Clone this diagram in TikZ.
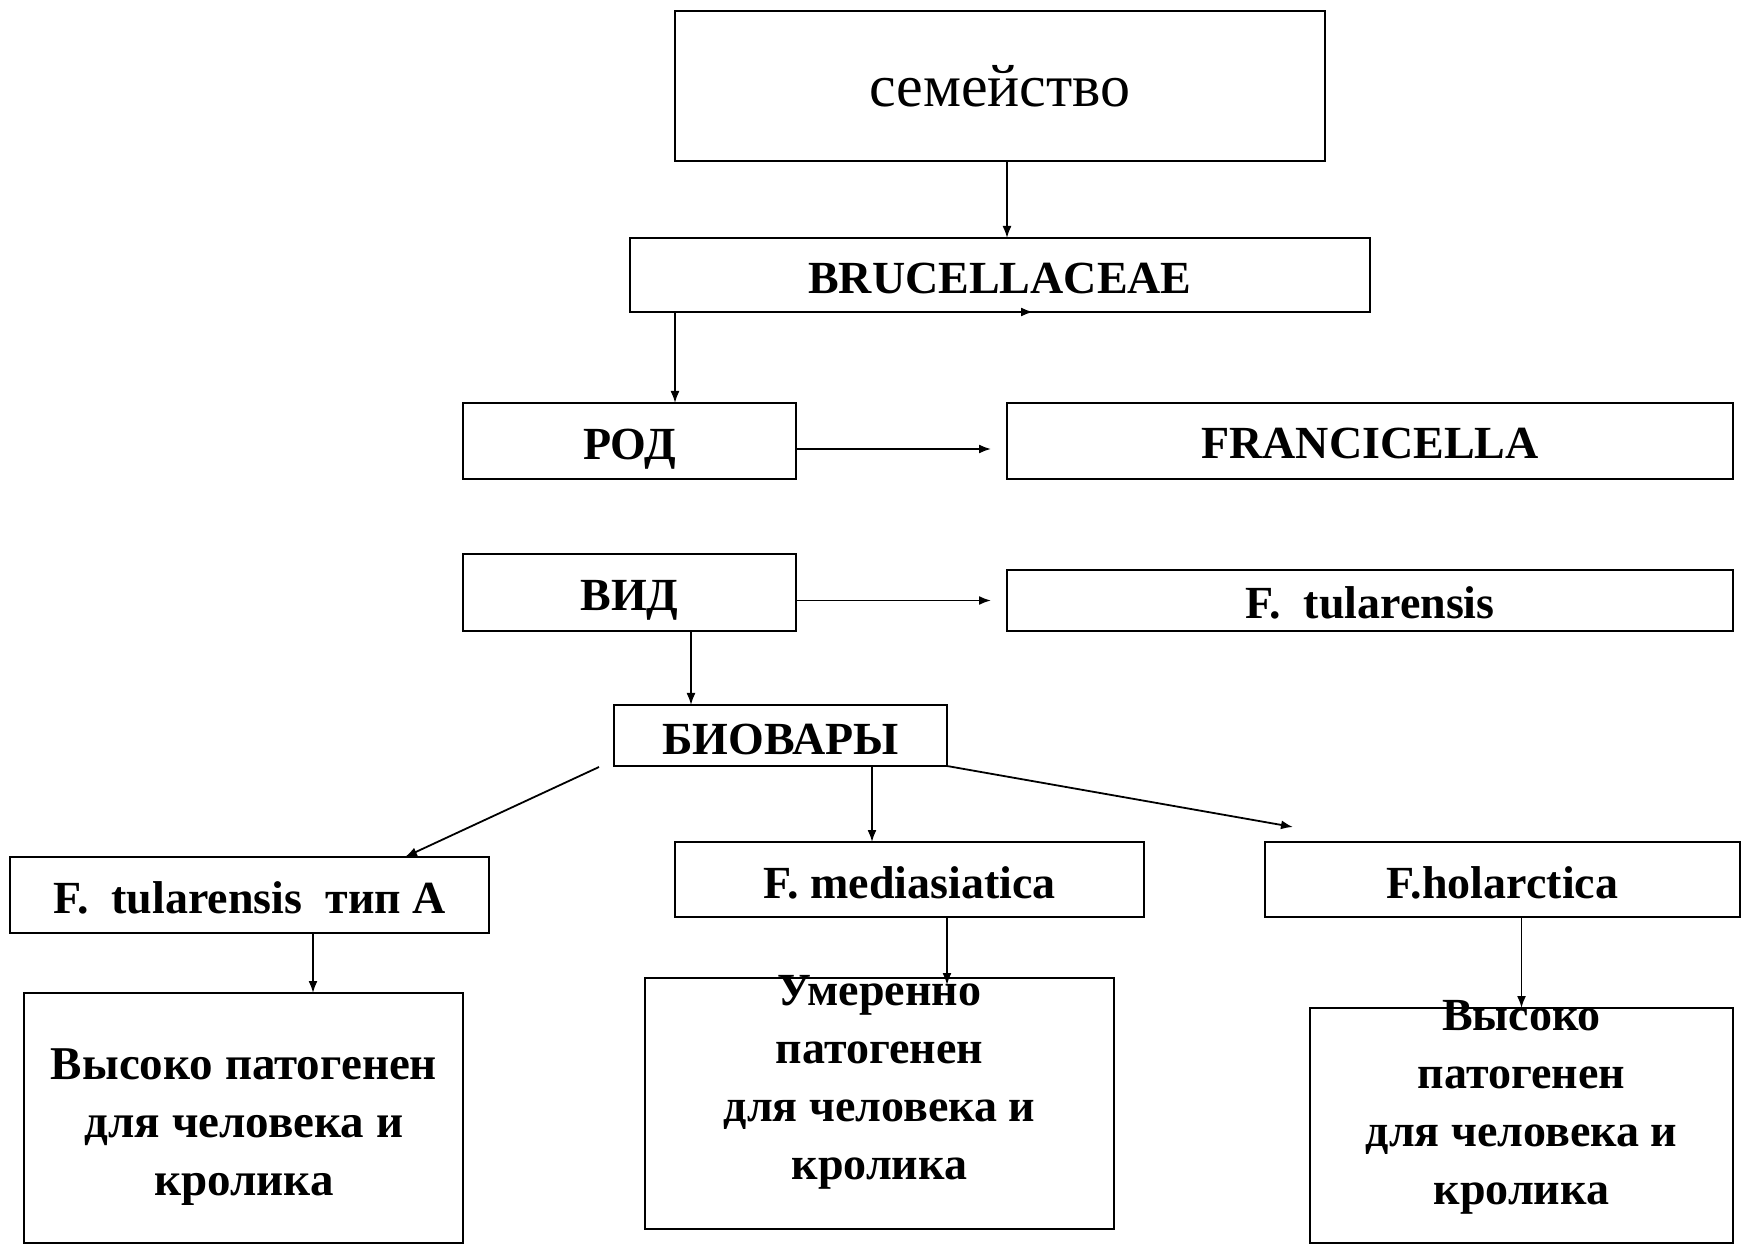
\documentclass[tikz,border=0pt]{standalone}
\usepackage{fontspec}
\setmainfont{Liberation Serif}
\usetikzlibrary{arrows.meta,calc}
\begin{document}
\begin{tikzpicture}[x=0.5pt,y=-0.5pt,
  box/.style={draw,line width=1pt,rectangle,inner sep=0pt,outer sep=0pt},
  lbl/.style={font=\fontsize{23}{29}\selectfont\bfseries,align=center,inner sep=0pt},
  arr/.style={line width=0.9pt,-{Latex[length=6pt,width=4.5pt]}}]
\useasboundingbox (0,0) rectangle (1741,1245);

% taxonomy boxes
\node[box,minimum width=325pt,minimum height=75pt,font=\fontsize{30}{36}\selectfont] (fam) at (1000,86) {семейство};
\node[box,minimum width=370pt,minimum height=37pt] (bru) at (1000,275) {};
\node[lbl] (brut) at (1000,279) {BRUCELLACEAE};
\node[box,minimum width=166.5pt,minimum height=38pt] (rod) at (629.5,441) {};
\node[lbl] (rodt) at (629.5,449) {РОД};
\node[box,minimum width=363pt,minimum height=38pt] (fran) at (1370,441) {};
\node[lbl] (frant) at (1370,444) {FRANCICELLA};
\node[box,minimum width=166.5pt,minimum height=38.5pt] (vid) at (629.5,592.5) {};
\node[lbl] (vidt) at (629.5,600) {ВИД};
\node[box,minimum width=363pt,minimum height=30.5pt] (ftul) at (1370,600.5) {};
\node[lbl] (ftult) at (1370,603) {F.\ \ tularensis};
\node[box,minimum width=166.5pt,minimum height=30.5pt] (bio) at (780.5,735.5) {};
\node[lbl] (biot) at (780.5,739) {БИОВАРЫ};

% biovars
\node[box,minimum width=239.5pt,minimum height=38pt] (ta) at (249.5,895) {};
\node[lbl] (tat) at (249.5,898) {F.\ \ tularensis\ \ тип А};
\node[box,minimum width=234.5pt,minimum height=37.5pt] (med) at (909.5,879.5) {};
\node[lbl] (medt) at (909.5,883) {F. mediasiatica};
\node[box,minimum width=237.5pt,minimum height=37.5pt] (hol) at (1502.5,879.5) {};
\node[lbl] (holt) at (1502.5,883) {F.holarctica};

% pathogenicity boxes
\node[box,minimum width=219.5pt,minimum height=125pt] (b1) at (243.5,1118) {};
\node[lbl,font=\fontsize{23.5}{29}\selectfont\bfseries] (b1t) at (244,1127) {Высоко патогенен\\для человека и\\кролика};
\node[box,minimum width=234.5pt,minimum height=125.5pt] (b2) at (879.5,1103.5) {};
\node[lbl] (b2t) at (879.5,1082) {Умеренно\\патогенен\\для человека и\\кролика};
\node[box,minimum width=211.5pt,minimum height=117.5pt] (b3) at (1521.5,1125.5) {};
\node[lbl] (b3t) at (1521.5,1107) {Высоко\\патогенен\\для человека и\\кролика};

% connectors
\draw[arr] ([xshift=3.5pt]fam.south) -- ([xshift=3.5pt]bru.north);
\draw[arr] ($(bru.south west)+(370,0)$) -- ($(bru.south west)+(403,0)$);
\draw[arr] ([xshift=22.5pt]bru.south west) -- ([xshift=22.5pt]bru.south west |- rod.north);
\draw[arr,shorten >=8pt] ([yshift=-4pt]rod.east) -- ([yshift=-4pt]rod.east -| fran.west);
\draw[arr,shorten >=8pt] (vid.east |- ftul.west) -- (ftul.west);
\draw[arr] ([xshift=114pt]vid.south west) -- ([xshift=114pt]vid.south west |- bio.north);
\draw[arr] ([xshift=-7.5pt,yshift=-0.5pt]bio.south west) -- ([xshift=197.5pt]ta.north west);
\draw[arr] ([xshift=129pt]bio.south west) -- ([xshift=129pt]bio.south west |- med.north);
\draw[arr] (bio.south east) -- ([xshift=14pt,yshift=7.5pt]hol.north west);
\draw[arr] ([xshift=151.5pt]ta.south west) -- ([xshift=151.5pt]ta.south west |- b1.north);
\draw[arr] ([xshift=136pt]med.south west) -- ([xshift=136pt,yshift=-3.5pt]med.south west |- b2.north);
\draw[arr] (b3.north |- hol.south) -- (b3.north);
\end{tikzpicture}
\end{document}
